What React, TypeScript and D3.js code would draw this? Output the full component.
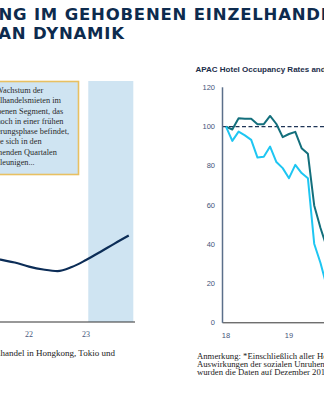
import React from "react";
import * as d3 from "d3";

// ---------- text ----------
const titleLines = ["ERHOLUNG IM GEHOBENEN EINZELHANDEL", "GEWINNT AN DYNAMIK"];
const noteLines = [
  "Das Wachstum der",
  "Einzelhandelsmieten im",
  "gehobenen Segment, das",
  "sich noch in einer frühen",
  "Besserungsphase befindet,",
  "könnte sich in den",
  "kommenden Quartalen",
  "beschleunigen...",
];
const leftFootnote = "Hinweis: *Gehobener Einzelhandel in Hongkong, Tokio und";
const rightTitle = "APAC Hotel Occupancy Rates and RevPAR*";
const rightFootnote = [
  "Anmerkung: *Einschließlich aller Hotelkategorien. Aufgrund der",
  "Auswirkungen der sozialen Unruhen in Hongkong",
  "wurden die Daten auf Dezember 2018 indexiert.",
];

// ---------- left chart data (rental growth, quarterly) ----------
const rentQuarters = [21.25, 21.5, 21.75, 22, 22.25, 22.5, 22.75, 23, 23.25, 23.5, 23.75];
const rentValues = [-5.92, -6.12, -6.3, -6.55, -6.73, -6.83, -6.58, -6.14, -5.64, -5.12, -4.62];
const leftTicks = [22, 23];
const leftTickLabels = ["22", "23"];
const forecastSpan = [23.04, 23.83];

// ---------- right chart data (index, periods) ----------
const periods = [0, 1, 2, 3, 4, 5, 6, 7, 8, 9, 10, 11, 12, 13, 14, 15, 16];
const revparIndex = [100, 98.5, 104.2, 104, 104, 101.2, 101.2, 105.4, 101.3, 94.6, 96.2, 97.3, 89, 86.1, 59.8, 48.3, 38.5];
const occupancyIndex = [100, 92.7, 97.4, 95.5, 93.2, 84.2, 84.6, 89.8, 81.9, 78.8, 73.7, 80.5, 76.3, 73.7, 40.3, 30.5, 18.5];
const rightYTicks = [0, 20, 40, 60, 80, 100, 120];
const rightXTicks = [0, 10];
const rightXTickLabels = ["18", "19"];
const baseline = 100;

export default function App() {
  const W = 324, H = 400;

  // left scales
  const xL = d3.scaleLinear().domain([22, 23]).range([29, 86]);
  const yL = d3.scaleLinear().domain([-10, 5]).range([322, 81]);
  const leftLine = d3
    .line<number>()
    .x((_, i) => xL(rentQuarters[i]))
    .y((d) => yL(d))
    .curve(d3.curveMonotoneX);

  // right scales
  const xR = d3.scaleLinear().domain([0, 10]).range([226, 289]);
  const yR = d3.scaleLinear().domain([0, 120]).range([322.8, 87.3]);
  const rLine = d3
    .line<number>()
    .x((_, i) => xR(periods[i]))
    .y((d) => yR(d))
    .curve(d3.curveLinear);

  const navy = "#0d2b4e";
  const tickBlue = "#45557a";

  return (
    <div style={{ position: "absolute", left: 0, top: 0, width: W, height: H, overflow: "hidden", background: "#fff" }}>
      <svg width={W} height={H} style={{ display: "block" }}>
        {/* main title */}
        <g fontFamily="DejaVu Sans" fontWeight="bold" fontSize={16.5} fill={navy} letterSpacing={0.8}>
          <text x={-81.5} y={20}>{titleLines[0]}</text>
          <text x={-102} y={38.5}>{titleLines[1]}</text>
        </g>

        {/* ---------- left chart ---------- */}
        <rect
          x={xL(forecastSpan[0])}
          y={81}
          width={xL(forecastSpan[1]) - xL(forecastSpan[0])}
          height={yL(-10) - 81}
          fill="#cfe4f2"
        />
        <rect x={-30} y={81.5} width={108.5} height={93} fill="#cfe4f2" stroke="#e8c062" strokeWidth={1.6} />
        <g fontFamily="Liberation Serif" fontSize={8.3} fill="#2a2a2a">
          {noteLines.map((t, i) => (
            <text key={i} x={-19} y={93 + i * 10.25}>{t}</text>
          ))}
        </g>
        <line x1={xL(21)} x2={xL(23.86)} y1={yL(-10)} y2={yL(-10)} stroke="#333" strokeWidth={1.2} />
        <path d={leftLine(rentValues) || ""} fill="none" stroke="#0c2d57" strokeWidth={2.2} />
        <g fontFamily="Liberation Serif" fontSize={8} fill={tickBlue} textAnchor="middle">
          {leftTicks.map((t, i) => (
            <text key={t} x={xL(t)} y={337}>{leftTickLabels[i]}</text>
          ))}
        </g>
        <text x={115} y={356} textAnchor="end" fontFamily="Liberation Serif" fontSize={9} fill="#222">
          {leftFootnote}
        </text>

        {/* ---------- right chart ---------- */}
        <text x={195.5} y={72} fontFamily="Liberation Sans" fontWeight="bold" fontSize={8} fill="#1c2e4a">
          {rightTitle}
        </text>
        <g fontFamily="Liberation Sans" fontSize={7.5} fill={tickBlue} textAnchor="end">
          {rightYTicks.map((t) => (
            <text key={t} x={215} y={yR(t)} dy="0.35em">{t}</text>
          ))}
        </g>
        <g fontFamily="Liberation Sans" fontSize={7.5} fill={tickBlue} textAnchor="middle">
          {rightXTicks.map((t, i) => (
            <text key={t} x={xR(t)} y={338}>{rightXTickLabels[i]}</text>
          ))}
        </g>
        <line x1={222.5} x2={W} y1={yR(baseline)} y2={yR(baseline)} stroke="#1f3557" strokeWidth={1.2} strokeDasharray="4,2.5" />
        <path d={rLine(revparIndex) || ""} fill="none" stroke="#136f7c" strokeWidth={2} strokeLinejoin="round" />
        <path d={rLine(occupancyIndex) || ""} fill="none" stroke="#1ec6f2" strokeWidth={2} strokeLinejoin="round" />
        <line x1={222.5} x2={W} y1={yR(0)} y2={yR(0)} stroke="#333" strokeWidth={1} />
        <line x1={222.5} x2={222.5} y1={yR(120)} y2={yR(0)} stroke="#5b6f8a" strokeWidth={1.5} />
        <g fontFamily="Liberation Serif" fontSize={8.7} fill="#222">
          {rightFootnote.map((t, i) => (
            <text key={i} x={197} y={358.5 + i * 8.4}>{t}</text>
          ))}
        </g>
      </svg>
    </div>
  );
}
